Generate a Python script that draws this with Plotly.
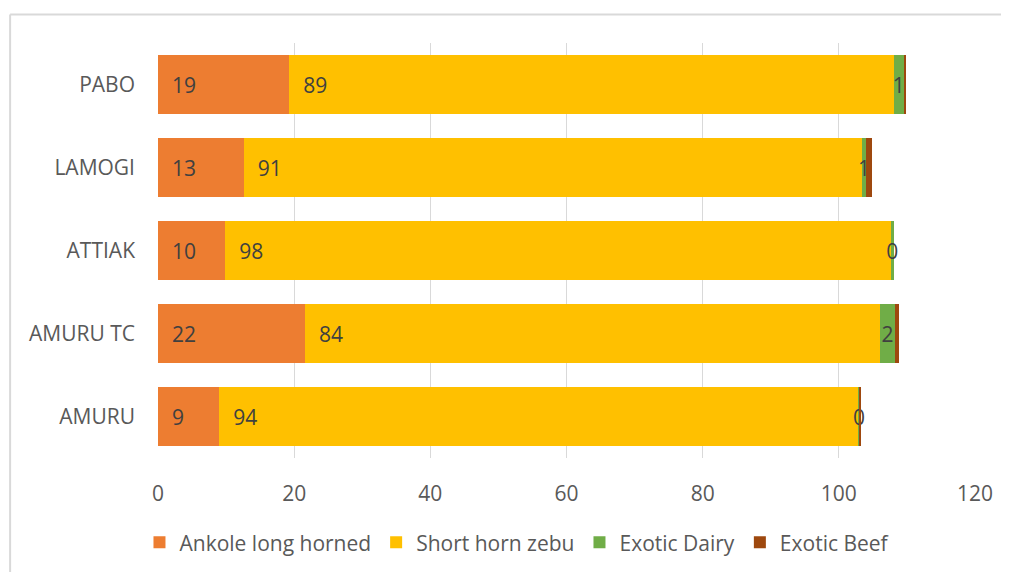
import plotly.graph_objects as go

# categories bottom -> top, as Plotly draws them
sites = ['AMURU', 'AMURU TC', 'ATTIAK', 'LAMOGI', 'PABO']

ankole = [9.0, 21.6, 9.9, 12.6, 19.3]
zebu = [93.8, 84.4, 97.9, 90.8, 88.8]
dairy = [0.3, 2.3, 0.25, 0.6, 1.4]
beef = [0.2, 0.5, 0.0, 0.9, 0.3]

x_ticks = [0, 20, 40, 60, 80, 100, 120]

FONT = 'Open Sans, Noto Sans, sans-serif'
SIZE = 21
LABEL = dict(family=FONT, size=SIZE, color='#404040')
PAD = '\u00a0\u00a0'

fig = go.Figure()
fig.add_trace(go.Bar(
    y=sites, x=ankole, name='Ankole long horned', orientation='h',
    marker=dict(color='#ED7D31', line=dict(width=0)),
    texttemplate=PAD + '%{x:.0f}', textposition='inside',
    insidetextanchor='start', textfont=LABEL, constraintext='none',
))
fig.add_trace(go.Bar(
    y=sites, x=zebu, name='Short horn zebu', orientation='h',
    marker=dict(color='#FFC000', line=dict(width=0)),
    texttemplate=PAD + '%{x:.0f}', textposition='inside',
    insidetextanchor='start', textfont=LABEL, constraintext='none',
))
fig.add_trace(go.Bar(
    y=sites, x=dairy, name='Exotic Dairy', orientation='h',
    marker=dict(color='#70AD47', line=dict(width=0)),
    texttemplate='%{x:.0f}', textposition='inside',
    insidetextanchor='middle', textfont=LABEL, constraintext='none',
))
fig.add_trace(go.Bar(
    y=sites, x=beef, name='Exotic Beef', orientation='h',
    marker=dict(color='#9E480E', line=dict(width=0)),
))

# chart frame (left and top edges visible, the rest runs off the page)
fig.add_shape(type='line', xref='paper', yref='paper',
              x0=-0.181, x1=1.1, y0=1.0686, y1=1.0686,
              line=dict(color='#D9D9D9', width=2))
fig.add_shape(type='line', xref='paper', yref='paper',
              x0=-0.181, x1=-0.181, y0=1.0686, y1=-0.4,
              line=dict(color='#D9D9D9', width=2))

# page body has an 8px margin, so the figure is sized/offset to compensate
fig.update_layout(
    barmode='stack',
    bargap=0.3,
    width=1001, height=564,
    margin=dict(l=150, r=34, t=35, b=114),
    paper_bgcolor='white', plot_bgcolor='white',
    font=dict(family=FONT, size=SIZE, color='#595959'),
    legend=dict(orientation='h', x=0.44, xanchor='center',
                y=0.052, yref='container', yanchor='middle',
                font=dict(size=SIZE, color='#595959'),
                traceorder='normal', itemwidth=30),
    showlegend=True,
)
fig.update_xaxes(
    range=[0, 120], tickvals=x_ticks, showgrid=True,
    gridcolor='#D9D9D9', gridwidth=1, zeroline=False,
    ticks='outside', ticklen=0, ticklabelstandoff=17,
    tickfont=dict(size=SIZE, color='#595959'),
)
fig.update_yaxes(
    showgrid=False, zeroline=False, ticks='', ticklabelstandoff=22,
    tickfont=dict(size=SIZE, color='#595959'),
)

fig.write_html('out.html')
